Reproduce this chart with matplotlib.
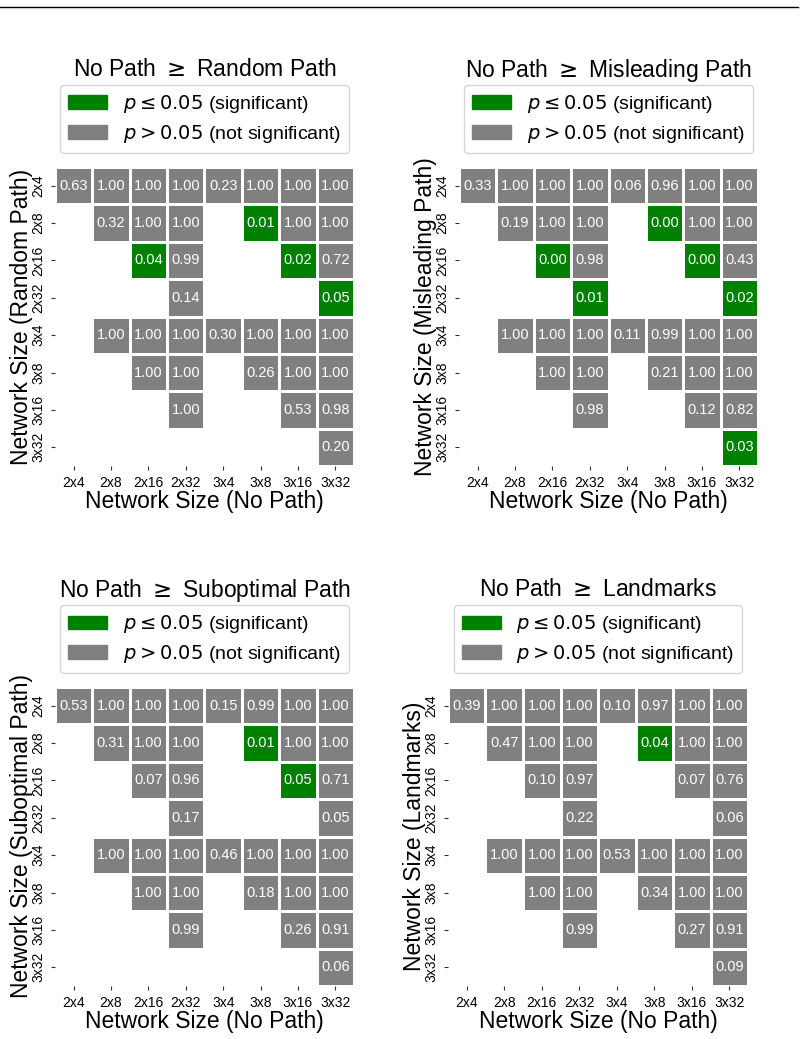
import numpy as np
import matplotlib
matplotlib.use("Agg")
import matplotlib.pyplot as plt
from matplotlib.colors import ListedColormap
from matplotlib.patches import Patch
from matplotlib.lines import Line2D

plt.rcParams['font.family'] = ['Liberation Sans', 'DejaVu Sans']
plt.rcParams['mathtext.fontset'] = 'dejavusans'

sizes = ["2x4", "2x8", "2x16", "2x32", "3x4", "3x8", "3x16", "3x32"]
N = np.nan

random_vals = [
    [0.63, 1.00, 1.00, 1.00, 0.23, 1.00, 1.00, 1.00],
    [N, 0.32, 1.00, 1.00, N, 0.01, 1.00, 1.00],
    [N, N, 0.04, 0.99, N, N, 0.02, 0.72],
    [N, N, N, 0.14, N, N, N, 0.05],
    [N, 1.00, 1.00, 1.00, 0.30, 1.00, 1.00, 1.00],
    [N, N, 1.00, 1.00, N, 0.26, 1.00, 1.00],
    [N, N, N, 1.00, N, N, 0.53, 0.98],
    [N, N, N, N, N, N, N, 0.20],
]
random_sig = [(1, 5), (2, 2), (2, 6), (3, 7)]

misleading_vals = [
    [0.33, 1.00, 1.00, 1.00, 0.06, 0.96, 1.00, 1.00],
    [N, 0.19, 1.00, 1.00, N, 0.00, 1.00, 1.00],
    [N, N, 0.00, 0.98, N, N, 0.00, 0.43],
    [N, N, N, 0.01, N, N, N, 0.02],
    [N, 1.00, 1.00, 1.00, 0.11, 0.99, 1.00, 1.00],
    [N, N, 1.00, 1.00, N, 0.21, 1.00, 1.00],
    [N, N, N, 0.98, N, N, 0.12, 0.82],
    [N, N, N, N, N, N, N, 0.03],
]
misleading_sig = [(1, 5), (2, 2), (2, 6), (3, 3), (3, 7), (7, 7)]

suboptimal_vals = [
    [0.53, 1.00, 1.00, 1.00, 0.15, 0.99, 1.00, 1.00],
    [N, 0.31, 1.00, 1.00, N, 0.01, 1.00, 1.00],
    [N, N, 0.07, 0.96, N, N, 0.05, 0.71],
    [N, N, N, 0.17, N, N, N, 0.05],
    [N, 1.00, 1.00, 1.00, 0.46, 1.00, 1.00, 1.00],
    [N, N, 1.00, 1.00, N, 0.18, 1.00, 1.00],
    [N, N, N, 0.99, N, N, 0.26, 0.91],
    [N, N, N, N, N, N, N, 0.06],
]
suboptimal_sig = [(1, 5), (2, 6)]

landmarks_vals = [
    [0.39, 1.00, 1.00, 1.00, 0.10, 0.97, 1.00, 1.00],
    [N, 0.47, 1.00, 1.00, N, 0.04, 1.00, 1.00],
    [N, N, 0.10, 0.97, N, N, 0.07, 0.76],
    [N, N, N, 0.22, N, N, N, 0.06],
    [N, 1.00, 1.00, 1.00, 0.53, 1.00, 1.00, 1.00],
    [N, N, 1.00, 1.00, N, 0.34, 1.00, 1.00],
    [N, N, N, 0.99, N, N, 0.27, 0.91],
    [N, N, N, N, N, N, N, 0.09],
]
landmarks_sig = [(1, 5)]

panels = [
    ("Random Path", random_vals, random_sig),
    ("Misleading Path", misleading_vals, misleading_sig),
    ("Suboptimal Path", suboptimal_vals, suboptimal_sig),
    ("Landmarks", landmarks_vals, landmarks_sig),
]

GREEN = "#008000"
GRAY = "#808080"

W, H = 804, 1039
fig = plt.figure(figsize=(W / 100, H / 100), dpi=100)

# axes pixel boxes (left, top, right, bottom)
boxes = [(55, 167, 354, 466), (459, 167, 758, 466),
         (55, 687, 354, 986), (448, 687, 748, 986)]

cmap = ListedColormap([GRAY, GREEN])

for (name, vals, sig), (l, t, r, b) in zip(panels, boxes):
    ax = fig.add_axes([l / W, 1 - b / H, (r - l) / W, (b - t) / H])
    v = np.array(vals, dtype=float)
    code = np.zeros_like(v)
    for (i, j) in sig:
        code[i, j] = 1
    code = np.ma.masked_where(np.isnan(v), code)
    ax.pcolormesh(np.arange(9), np.arange(9), code, cmap=cmap, vmin=0, vmax=1,
                  edgecolors="white", linewidth=1.0)
    for i in range(8):
        for j in range(8):
            if not np.isnan(v[i, j]):
                ax.text(j + 0.5, i + 0.5, f"{v[i, j]:.2f}", ha="center", va="center",
                        color="white", fontsize=10.5)
    ax.set_xlim(0, 8)
    ax.set_ylim(8, 0)
    ax.set_xticks(np.arange(8) + 0.5)
    ax.set_yticks(np.arange(8) + 0.5)
    ax.set_xticklabels(sizes, fontsize=10)
    ax.set_yticklabels(sizes, fontsize=10, rotation=90, va="center")
    ax.tick_params(length=3, width=0.8, color="#333333", pad=4)
    for s in ax.spines.values():
        s.set_visible(False)
    ax.set_xlabel("Network Size (No Path)", fontsize=16.5, labelpad=0)
    ax.set_ylabel(f"Network Size ({name})", fontsize=16.5, labelpad=-1)

    cx = (l + r) / 2 / W
    fig.text(cx, 1 - (t - 97) / H, f"No Path $\\geq$ {name}", ha="center", va="center",
             fontsize=16.5)
    handles = [Patch(facecolor=GREEN, edgecolor=GREEN), Patch(facecolor=GRAY, edgecolor=GRAY)]
    labels = [r"$p \leq 0.05$ (significant)", r"$p > 0.05$ (not significant)"]
    fig.legend(handles, labels, loc="center", bbox_to_anchor=(cx, 1 - (t - 48) / H),
               fontsize=14, frameon=True, handlelength=2.0, handleheight=0.7,
               borderpad=0.4, labelspacing=0.4)

fig.add_artist(Line2D([0, 798 / W], [1 - 6.5 / H, 1 - 6.5 / H], color="black", lw=1.0,
                      transform=fig.transFigure))

fig.savefig("out.png", dpi=100)
